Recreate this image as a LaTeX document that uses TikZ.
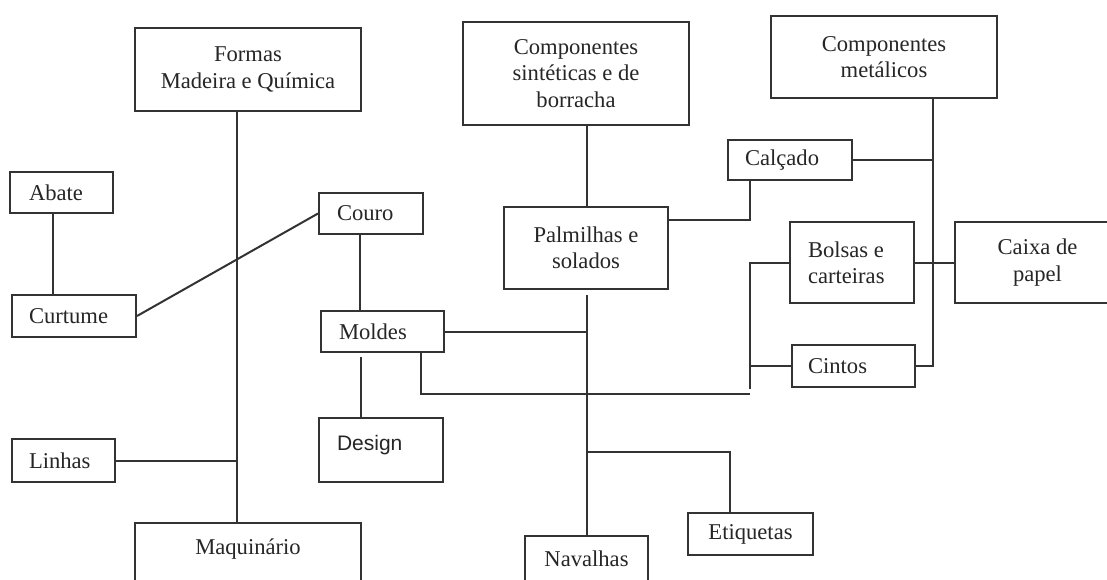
\documentclass[tikz,border=0pt]{standalone}
\usepackage{fontspec}
\setmainfont{Liberation Serif}
\newfontfamily\dsans{Liberation Sans}
\begin{document}
\begin{tikzpicture}[x=0.5pt,y=-0.5pt,
  ln/.style={line width=1pt, draw=black!80},
  box/.style={draw=black!80, line width=1pt, inner sep=0pt, font=\fontsize{11.3}{13.2}\selectfont, text=black!85},
  cbox/.style={box, align=center},
  lbox/.style={box, align=flush left}]
\useasboundingbox (0,0) rectangle (1107,579);
\fill[white] (0,0) rectangle (1107,579);
\begin{scope}
\clip (0,0) rectangle (1107,579);
% boxes
\node[cbox, minimum width=113pt, minimum height=41.5pt] (formas) at (248,69.5) {Formas\\Madeira e Química};
\node[cbox, minimum width=113pt, minimum height=51.5pt] (sint) at (576,73.5) {Componentes\\sintéticas e de\\borracha};
\node[cbox, minimum width=113pt, minimum height=41pt] (met) at (884,57) {Componentes\\metálicos};
\node[lbox, minimum width=51.5pt, minimum height=20.5pt, text width=32.5pt, inner xsep=9.5pt] (abate) at (61.5,192.5) {Abate};
\node[lbox, minimum width=62pt, minimum height=21pt, text width=45pt, inner xsep=8.5pt] (curtume) at (74,316) {Curtume};
\node[lbox, minimum width=52pt, minimum height=20.5pt, text width=34pt, inner xsep=9pt] (couro) at (371,213.5) {Couro};
\node[lbox, minimum width=61.5pt, minimum height=20.5pt, text width=43.5pt, inner xsep=9pt] (moldes) at (382.5,331.5) {Moldes};
\node[lbox, font=\dsans\fontsize{10.5}{12}\selectfont, minimum width=62pt, minimum height=32pt, text width=44pt, inner xsep=9pt, text height=7.6pt, text depth=7.6pt] (design) at (381,450) {Design};
\node[lbox, minimum width=51.5pt, minimum height=21.5pt, text width=34.5pt, inner xsep=8.5pt] (linhas) at (63.5,460.5) {Linhas};
\node[cbox, minimum width=113pt, minimum height=40pt, anchor=north, text height=8pt, text depth=17pt] (maq) at (248,522) {Maquinário};
\node[cbox, minimum width=82pt, minimum height=41pt] (palm) at (586,248) {Palmilhas e\\solados};
\node[lbox, minimum width=62pt, minimum height=20pt, text width=45pt, inner xsep=8.5pt] (calcado) at (790,160) {Calçado};
\node[lbox, minimum width=62pt, minimum height=40.5pt, text width=44pt, inner xsep=9pt] (bolsas) at (852,262.5) {Bolsas e\\carteiras};
\node[cbox, minimum width=82.5pt, minimum height=40.5pt] (caixa) at (1037.5,262.5) {Caixa de\\papel};
\node[lbox, minimum width=61.5pt, minimum height=21pt, text width=45.5pt, inner xsep=8pt] (cintos) at (853.5,366) {Cintos};
\node[cbox, minimum width=61.5pt, minimum height=23pt] (nav) at (586.5,559) {Navalhas};
\node[cbox, minimum width=62.5pt, minimum height=21pt] (etiq) at (750.5,534) {Etiquetas};
% helper coordinates
\coordinate (sA) at (237,0);
\coordinate (sB) at (587,0);
\coordinate (sC) at (933,0);
\coordinate (sD) at (750,0);
\coordinate (aC) at (53,0);
\coordinate (cC) at (360,0);
\coordinate (mC) at (421,0);
\coordinate (eC) at (730,0);
\coordinate (mdgap) at (361,357);
\coordinate (palgap) at (587,295);
\coordinate (dEnd) at (750,389);
\coordinate (mEnd) at (750,394);
\coordinate (y220) at (0,220);
\coordinate (y452) at (0,452);
% connectors
\draw[ln] (formas.south -| sA) -- (maq.north -| sA);
\draw[ln] (linhas.east) -- (linhas.east -| sA);
\draw[ln] (abate.south -| aC) -- (curtume.north -| aC);
\draw[ln] (curtume.east) -- (couro.west);
\draw[ln] (couro.south -| cC) -- (moldes.north -| cC);
\draw[ln] (mdgap) -- (design.north -| mdgap);
\draw[ln] (moldes.east) -- (moldes.east -| sB);
\draw[ln] (sint.south -| sB) -- (palm.north -| sB);
\draw[ln] (palgap) -- (nav.north -| sB);
\draw[ln] (palm.east |- y220) -| (calcado.south -| sD);
\draw[ln] (calcado.east) -- (calcado.east -| sC);
\draw[ln] (met.south -| sC) |- (cintos.east);
\draw[ln] (bolsas.east) -- (caixa.west);
\draw[ln] (bolsas.west) -| (dEnd);
\draw[ln] (cintos.west) -- (cintos.west -| sD);
\draw[ln] (moldes.south -| mC) |- (mEnd);
\draw[ln] (sB |- y452) -| (etiq.north -| eC);
\end{scope}
\end{tikzpicture}
\end{document}
